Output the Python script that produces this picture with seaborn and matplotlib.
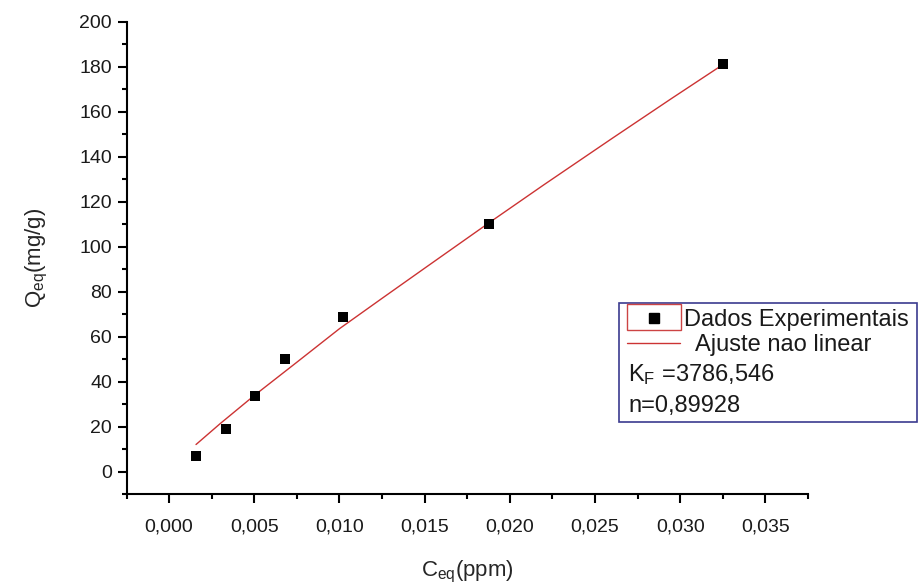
import numpy as np
import pandas as pd
import matplotlib
matplotlib.use("Agg")
import matplotlib.pyplot as plt
import seaborn as sns
from matplotlib.ticker import MultipleLocator, FuncFormatter
from matplotlib.patches import Rectangle
from matplotlib.lines import Line2D

# experimental points (Ceq in ppm, Qeq in mg/g)
c_eq = [0.00158, 0.00335, 0.00505, 0.00681, 0.01021, 0.01878, 0.03251]
q_eq = [6.7, 18.7, 33.4, 49.9, 68.6, 110.0, 181.3]

# non linear fit curve
fit_c = [0.00158, 0.0030, 0.0050, 0.0075, 0.0100, 0.0125, 0.0150, 0.0188, 0.0220, 0.0260, 0.0295, 0.03234]
fit_q = [12.0, 21.3, 33.8, 48.6, 63.5, 77.0, 90.4, 110.7, 127.5, 148.1, 165.9, 180.1]

legend_labels = ["Dados Experimentais", "Ajuste nao linear"]
fit_params = ["K$_\\mathregular{F}$ =3786,546", "n=0,89928"]

W, H = 920, 584

sns.set_style("ticks")
plt.rcParams['font.family'] = ['Liberation Sans', 'DejaVu Sans']
plt.rcParams['mathtext.default'] = 'regular'
plt.rcParams['text.color'] = '#1a1a1a'


def fx(px):
    return px / W


def fy(py):
    return 1 - py / H


fig = plt.figure(figsize=(W / 100, H / 100), dpi=100)
ax = fig.add_axes([fx(126.5), fy(494), (808 - 126.5) / W, (494 - 21.7) / H])

fit_df = pd.DataFrame({"c": fit_c, "q": fit_q})
pts_df = pd.DataFrame({"c": c_eq, "q": q_eq})

sns.lineplot(data=fit_df, x="c", y="q", color="#cc3333", linewidth=1.0, sort=False, ax=ax)
sns.scatterplot(data=pts_df, x="c", y="q", marker="s", s=55, color="black",
                edgecolor="black", linewidth=0, ax=ax, zorder=3)

ax.set_xlim(-0.0025, 0.0375)
ax.set_ylim(-10, 200)
ax.xaxis.set_major_locator(MultipleLocator(0.005))
ax.xaxis.set_minor_locator(MultipleLocator(0.0025))
ax.yaxis.set_major_locator(MultipleLocator(20))
ax.yaxis.set_minor_locator(MultipleLocator(10))
ax.xaxis.set_major_formatter(FuncFormatter(lambda v, p: f"{v:.3f}".replace(".", ",")))
ax.yaxis.set_major_formatter(FuncFormatter(lambda v, p: f"{v:.0f}"))

sns.despine(ax=ax)
for s in ["left", "bottom"]:
    ax.spines[s].set_linewidth(1.5)
    ax.spines[s].set_color("black")

ax.tick_params(which="major", length=6.5, width=1.5, labelsize=14, direction="out",
               color="black", labelcolor="#1a1a1a")
ax.tick_params(which="minor", length=3.5, width=1.5, direction="out", color="black")
ax.tick_params(axis="x", which="major", pad=11)
ax.tick_params(axis="y", which="major", pad=4)

ax.set_xlabel("C$_{eq}$(ppm)", fontsize=16, labelpad=17)
ax.set_ylabel("Q$_{eq}$(mg/g)", fontsize=16, labelpad=21)

# legend box with fit parameters
fig.add_artist(Rectangle((fx(619), fy(422)), (917 - 619) / W, (422 - 303) / H,
                         transform=fig.transFigure, facecolor="white",
                         edgecolor="#3b3b8f", linewidth=1.2, zorder=5))
fig.add_artist(Rectangle((fx(627), fy(330)), (681 - 627) / W, (330 - 304) / H,
                         transform=fig.transFigure, facecolor="none",
                         edgecolor="#cc4444", linewidth=1.0, zorder=6))
fig.add_artist(Line2D([fx(654)], [fy(318)], marker="s", markersize=7.5, color="black",
                      linestyle="none", transform=fig.transFigure, zorder=6))
fig.add_artist(Line2D([fx(627), fx(680)], [fy(343), fy(343)], color="#cc3333",
                      linewidth=1.0, transform=fig.transFigure, zorder=6))

fs = 17
fig.text(fx(684), fy(326), legend_labels[0], fontsize=fs, va="baseline", zorder=7)
fig.text(fx(695), fy(351), legend_labels[1], fontsize=fs, va="baseline", zorder=7)
fig.text(fx(628), fy(381), fit_params[0], fontsize=fs, va="baseline", zorder=7)
fig.text(fx(628), fy(412), fit_params[1], fontsize=fs, va="baseline", zorder=7)

fig.savefig("out.png", dpi=100)
